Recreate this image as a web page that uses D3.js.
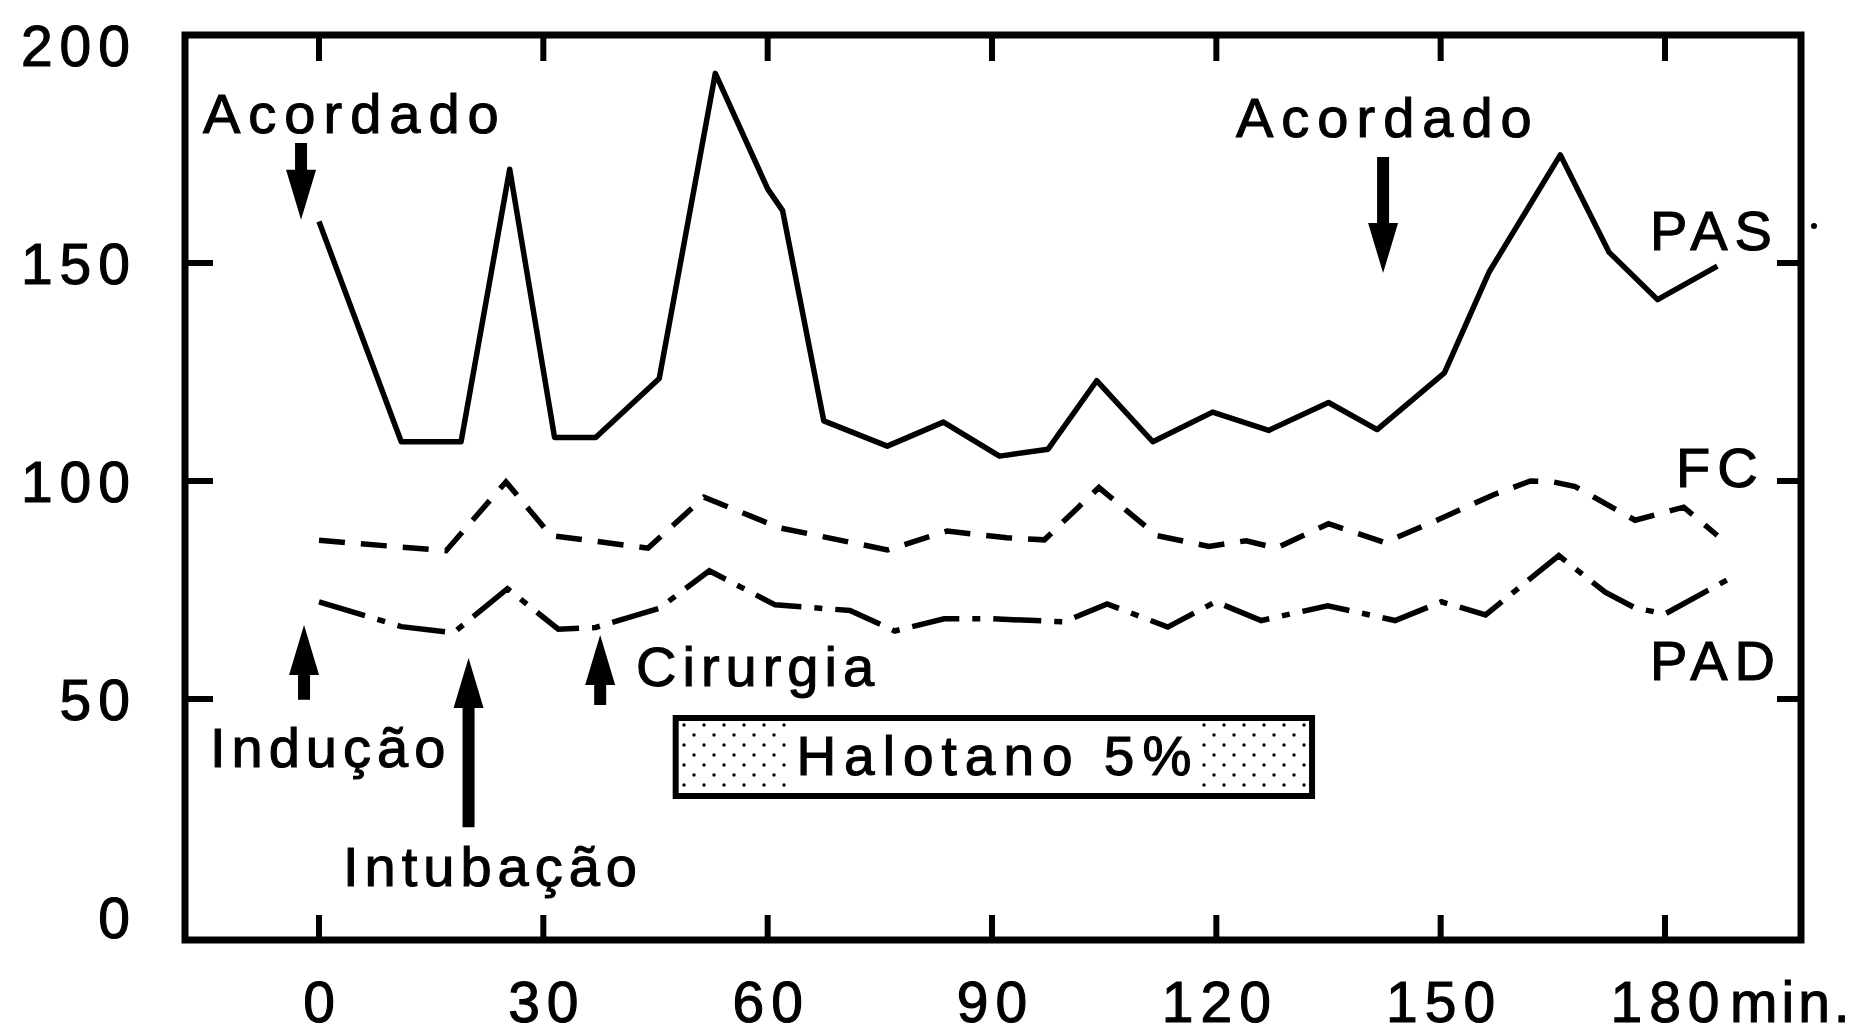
<!DOCTYPE html>
<html>
<head>
<meta charset="utf-8">
<script src="https://cdn.jsdelivr.net/npm/d3@7"></script>
<style>
  body { margin: 0; background: #fff; }
  svg text { font-family: "Liberation Sans", Arial, Helvetica, sans-serif; fill: #000; stroke: #000; stroke-width: 1.1; }
</style>
</head>
<body>
<svg id="chart" width="1863" height="1033"></svg>
<script>
// PAS - solid line (minutes, mmHg)
const pasMin = [0, 11, 19, 25.5, 31.5, 37, 45.5, 53, 60, 62, 67.5, 76, 83.5, 91, 97.5, 104, 111.5, 119.5, 127, 135, 141.5, 150.5, 156.5, 166, 172.5, 179, 187];
const pasVal = [159.5, 109, 109, 171.5, 110, 110, 123.5, 193.5, 167, 162, 113.8, 108, 113.5, 105.7, 107.3, 123, 109, 115.8, 111.6, 118, 111.8, 124.8, 148, 174.8, 152.5, 141.6, 149.3];

// FC - dashed
const fcMin = [0, 17, 25, 31, 44, 51.5, 61.5, 76, 84, 92, 97, 104.3, 112, 119, 124, 128, 135, 142.5, 149.5, 157, 162, 165, 168, 176, 182.5, 187];
const fcVal = [86.4, 84, 99.8, 87.5, 84.6, 96.3, 89.3, 84.2, 88.5, 87, 86.5, 98.5, 87.5, 85, 86.3, 84.6, 90.2, 85.9, 91, 96.8, 100, 99.8, 98.7, 91, 94, 87.5];

// PAD - dash dot
const padMin = [0, 11, 18, 25.2, 32, 37, 45.5, 52.2, 61, 71, 77, 83.6, 90, 99.6, 105.4, 113.5, 119.9, 126, 134.9, 143.9, 150.1, 156, 165.8, 172, 176, 180, 188.4];
const padVal = [72.3, 66.6, 65.2, 75.3, 66, 66.4, 70.8, 79.4, 71.6, 70.3, 65.6, 68.4, 68.4, 67.7, 71.8, 66.5, 72.3, 68, 71.4, 68, 72.3, 69.3, 82.9, 74.5, 70.9, 69.5, 77.4];

// axes
const xTicks = [0, 30, 60, 90, 120, 150, 180];
const yLabels = [0, 50, 100, 150, 200];
const yTickMarks = [50, 100, 150];

// events (arrows): minute, tail value, tip value
const eventNames = ["Acordado", "Acordado", "Indução", "Intubação", "Cirurgia"];
const eventMin = [-2.4, 142.3, -2, 20, 37.6];
const eventTail = [177.5, 174.3, 49.8, 20.6, 48.6];
const eventTip = [159.9, 147.7, 67, 59.4, 64.7];

// halothane period (minutes)
const halotanoMin = [47.7, 132.8];
const halotanoLabel = "Halotano 5%";

const svg = d3.select("#chart");
const W = 1863, H = 1033;
const frame = { left: 185, right: 1801, top: 35, bottom: 940 };

const x = d3.scaleLinear().domain([0, 180]).range([319, 1665]);
const y = d3.scaleLinear().domain([0, 200]).range([917, 45]);

svg.append("rect").attr("width", W).attr("height", H).attr("fill", "#fff");

// stipple pattern
const defs = svg.append("defs");
const pat = defs.append("pattern")
    .attr("id", "dots")
    .attr("patternUnits", "userSpaceOnUse")
    .attr("width", 20).attr("height", 20);
pat.append("rect").attr("width", 20).attr("height", 20).attr("fill", "#fff");
pat.append("circle").attr("cx", 4).attr("cy", 5).attr("r", 1.7).attr("fill", "#000");
pat.append("circle").attr("cx", 14).attr("cy", 15).attr("r", 1.7).attr("fill", "#000");

// frame
svg.append("rect")
    .attr("x", frame.left).attr("y", frame.top)
    .attr("width", frame.right - frame.left)
    .attr("height", frame.bottom - frame.top)
    .attr("fill", "none").attr("stroke", "#000").attr("stroke-width", 7);

// x ticks, top and bottom, pointing inward
svg.selectAll(".xtb").data(xTicks).enter().append("line")
    .attr("x1", d => x(d)).attr("x2", d => x(d))
    .attr("y1", frame.bottom).attr("y2", frame.bottom - 25)
    .attr("stroke", "#000").attr("stroke-width", 6);
svg.selectAll(".xtt").data(xTicks).enter().append("line")
    .attr("x1", d => x(d)).attr("x2", d => x(d))
    .attr("y1", frame.top).attr("y2", frame.top + 26)
    .attr("stroke", "#000").attr("stroke-width", 6);

// y ticks left and right
svg.selectAll(".ytl").data(yTickMarks).enter().append("line")
    .attr("x1", frame.left).attr("x2", frame.left + 28)
    .attr("y1", d => y(d)).attr("y2", d => y(d))
    .attr("stroke", "#000").attr("stroke-width", 6);
svg.selectAll(".ytr").data(yTickMarks).enter().append("line")
    .attr("x1", frame.right).attr("x2", frame.right - 24)
    .attr("y1", d => y(d)).attr("y2", d => y(d))
    .attr("stroke", "#000").attr("stroke-width", 6);

// speck right of the frame
svg.append("circle").attr("cx", 1814).attr("cy", 226).attr("r", 3).attr("fill", "#000");

// tick labels
const tickFont = 57, tickLs = 7;
svg.selectAll(".xl").data(xTicks).enter().append("text")
    .attr("x", d => x(d) + tickLs / 2)
    .attr("y", 1022)
    .attr("text-anchor", "middle")
    .attr("font-size", tickFont)
    .attr("letter-spacing", tickLs)
    .text(d => d);
svg.append("text")
    .attr("x", 1730).attr("y", 1022)
    .attr("font-size", tickFont)
    .attr("letter-spacing", 4)
    .text("min.");
svg.selectAll(".yl").data(yLabels).enter().append("text")
    .attr("x", 137)
    .attr("y", d => y(d) + 21)
    .attr("text-anchor", "end")
    .attr("font-size", tickFont)
    .attr("letter-spacing", tickLs)
    .text(d => d);

// series
const line = d3.line().x(d => x(d[0])).y(d => y(d[1]));

svg.append("path")
    .datum(d3.zip(pasMin, pasVal))
    .attr("d", line)
    .attr("fill", "none").attr("stroke", "#000")
    .attr("stroke-width", 5.5).attr("stroke-linejoin", "round");

svg.append("path")
    .datum(d3.zip(fcMin, fcVal))
    .attr("d", line)
    .attr("fill", "none").attr("stroke", "#000")
    .attr("stroke-width", 5.5)
    .attr("stroke-dasharray", "26,16");

svg.append("path")
    .datum(d3.zip(padMin, padVal))
    .attr("d", line)
    .attr("fill", "none").attr("stroke", "#000")
    .attr("stroke-width", 5.5)
    .attr("stroke-dasharray", "48,13,8,13");

// arrows
const arrowPath = (t, tail, tip) => {
    const cx = x(t), y0 = y(tail), y1 = y(tip);
    const dir = y1 > y0 ? 1 : -1;
    const head = 50, hw = 15, sw = 6;
    const yb = y1 - dir * head;
    return `M${cx - sw},${y0} L${cx + sw},${y0} L${cx + sw},${yb} L${cx + hw},${yb} ` +
        `L${cx},${y1} L${cx - hw},${yb} L${cx - sw},${yb} Z`;
};
svg.selectAll(".arrow").data(eventMin).enter().append("path")
    .attr("d", (d, i) => arrowPath(d, eventTail[i], eventTip[i]))
    .attr("fill", "#000");

// labels
const labelFont = 56, labelLs = 6;
const labelPos = [[203, 133], [1236, 137], [210, 767], [343, 886], [636, 686]];
const labelSpacing = [8, 8, 6, 6, 6];
svg.selectAll(".evl").data(eventNames).enter().append("text")
    .attr("x", (d, i) => labelPos[i][0])
    .attr("y", (d, i) => labelPos[i][1])
    .attr("font-size", labelFont)
    .attr("letter-spacing", (d, i) => labelSpacing[i])
    .text(d => d);

const seriesNames = ["PAS", "FC", "PAD"];
const seriesPos = [[1650, 250], [1676, 487], [1650, 680]];
svg.selectAll(".sl").data(seriesNames).enter().append("text")
    .attr("x", (d, i) => seriesPos[i][0])
    .attr("y", (d, i) => seriesPos[i][1])
    .attr("font-size", labelFont)
    .attr("letter-spacing", 7)
    .text(d => d);

// halothane box
const bx0 = x(halotanoMin[0]), bx1 = x(halotanoMin[1]);
const by0 = 718, by1 = 796;
svg.append("rect")
    .attr("x", bx0).attr("y", by0)
    .attr("width", bx1 - bx0).attr("height", by1 - by0)
    .attr("fill", "url(#dots)").attr("stroke", "#000").attr("stroke-width", 6);
const blank = svg.append("rect").attr("fill", "#fff");
const hal = svg.append("text")
    .attr("x", (bx0 + bx1) / 2 + 4)
    .attr("y", 775)
    .attr("text-anchor", "middle")
    .attr("font-size", 55)
    .attr("letter-spacing", 8)
    .text(halotanoLabel);
const bb = hal.node().getBBox();
blank.attr("x", bb.x - 10).attr("y", by0 + 3)
    .attr("width", bb.width + 10).attr("height", by1 - by0 - 6);
</script>
</body>
</html>
